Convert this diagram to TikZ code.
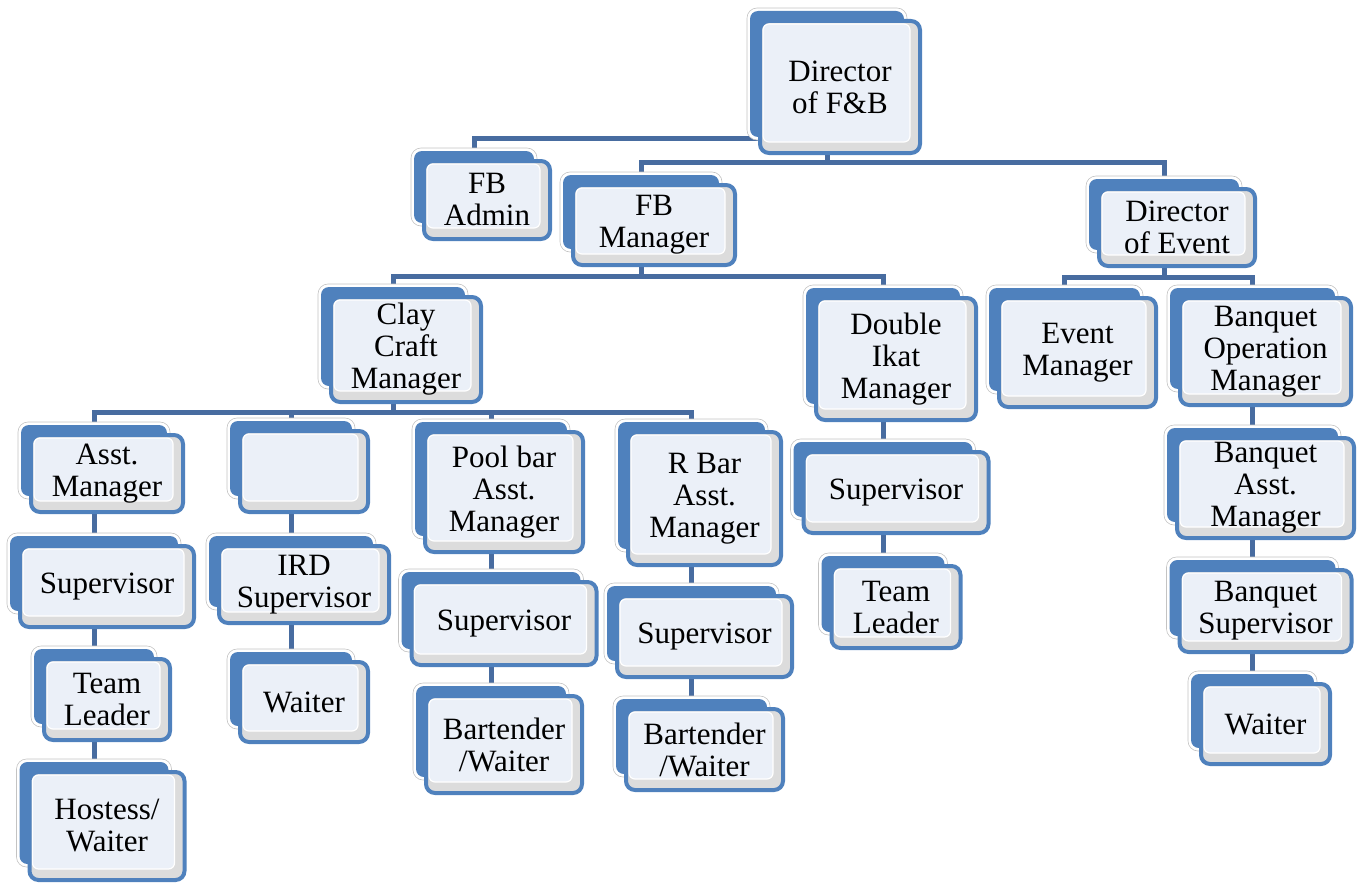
\documentclass[tikz,border=0pt]{standalone}
\usepackage{fontspec}
\newfontfamily\orgfont{LiberationSerif-Regular.ttf}
\usetikzlibrary{backgrounds,calc}
\definecolor{boxblue}{RGB}{79,129,189}
\definecolor{linkblue}{RGB}{72,108,160}
\definecolor{lightfill}{RGB}{235,240,248}
\definecolor{shadegray}{RGB}{220,220,220}
\definecolor{rimgray}{RGB}{195,195,195}
\tikzset{
  backbox/.style={draw=rimgray, line width=0.6pt, fill=white, rounded corners=10pt, inner sep=0pt,
    path picture={\fill[boxblue, rounded corners=8pt]
      ([shift={(3pt,-3pt)}]path picture bounding box.north west) rectangle
      ([shift={(-3pt,3pt)}]path picture bounding box.south east);}},
  frontbox/.style={draw=boxblue, line width=4pt, fill=shadegray, rounded corners=9pt, inner sep=0pt,
    align=center, font=\orgfont\fontsize{31}{32}\selectfont,
    path picture={\filldraw[fill=lightfill, draw=white, line width=1.2pt, rounded corners=6pt]
      ([shift={(3pt,-3pt)}]path picture bounding box.north west) rectangle
      ([shift={(-10pt,11pt)}]path picture bounding box.south east);}},
  conn/.style={draw=linkblue, line width=5pt}
}
% name, centre x of back box, top y of back box, width, height, text
\newcommand\orgbox[6]{%
  \node[backbox, minimum width=#4pt, minimum height=#5pt] (#1-b) at (#2,{#3+#5/2}) {};
  \node[frontbox, minimum width=#4pt, minimum height=#5pt] (#1) at ({#2+13},{#3+#5/2+13}) {#6};
}
\begin{document}
\begin{tikzpicture}[x=1pt,y=-1pt]
\useasboundingbox (0,0) rectangle (1357,883);
\orgbox{dir}{827}{8}{160}{132}{Director\\of F\&B}
\orgbox{adm}{474}{148}{126}{78}{FB\\Admin}
\orgbox{fbm}{641}{172}{162}{80}{FB\\Manager}
\orgbox{evt}{1164}{176}{156}{77}{Director\\of Event}
\orgbox{clay}{393}{284}{150}{105}{Clay\\Craft\\Manager}
\orgbox{dik}{883}{285}{160}{122}{Double\\Ikat\\Manager}
\orgbox{em}{1064.5}{285}{157}{109}{Event\\Manager}
\orgbox{bop}{1252.5}{285}{171}{107}{Banquet\\Operation\\Manager}
\orgbox{am1}{94}{422}{152}{77}{Asst.\\Manager}
\orgbox{emp}{291}{418}{128}{81}{}
\orgbox{pool}{491}{419}{158}{120}{Pool bar\\Asst.\\Manager}
\orgbox{rbar}{691.5}{419}{153}{133}{R Bar\\Asst.\\Manager}
\orgbox{sup1}{94}{533}{174}{81}{Supervisor}
\orgbox{tl1}{94}{646}{126}{81}{Team\\Leader}
\orgbox{host}{94}{759}{155}{108}{Hostess/\\Waiter}
\orgbox{ird}{291}{533}{170}{77}{IRD\\Supervisor}
\orgbox{wai2}{291}{649}{128}{80}{Waiter}
\orgbox{psup}{491}{569}{185}{83}{Supervisor}
\orgbox{pbw}{491}{683}{156}{97}{Bartender\\/Waiter}
\orgbox{rsup}{691.5}{583}{175}{81}{Supervisor}
\orgbox{rbw}{691.5}{696}{157}{81}{Bartender\\/Waiter}
\orgbox{dsup}{883}{439}{185}{81}{Supervisor}
\orgbox{dtl}{883}{553}{129}{82}{Team\\Leader}
\orgbox{bam}{1252.5}{425}{177}{100}{Banquet\\Asst.\\Manager}
\orgbox{bsup}{1252.5}{557}{172}{82}{Banquet\\Supervisor}
\orgbox{bwai}{1252.5}{671}{129}{80}{Waiter}
\begin{scope}[on background layer]
  \coordinate (j1) at (827,138);
  \coordinate (j2) at (827,162);
  \coordinate (j3) at (641,276);
  \coordinate (j4) at (1164,277);
  \coordinate (j5) at (393,412);
  \draw[conn] (dir-b.center) -- (j2);
  \draw[conn] (j1) -| (adm-b.north);
  \draw[conn] (fbm-b.north) |- (j2) -| (evt-b.north);
  \draw[conn] (fbm-b.center) -- (j3);
  \draw[conn] (clay-b.north) |- (j3) -| (dik-b.north);
  \draw[conn] (evt-b.center) -- (j4);
  \draw[conn] (em-b.north) |- (j4) -| (bop-b.north);
  \draw[conn] (clay-b.center) -- (j5);
  \draw[conn] (am1-b.north) |- (j5) -| (rbar-b.north);
  \draw[conn] (emp-b.north) -- (emp-b.north |- j5);
  \draw[conn] (pool-b.north) -- (pool-b.north |- j5);
  \draw[conn] (am1-b.center) -- (sup1-b.north);
  \draw[conn] (sup1-b.center) -- (tl1-b.north);
  \draw[conn] (tl1-b.center) -- (host-b.north);
  \draw[conn] (emp-b.center) -- (ird-b.north);
  \draw[conn] (ird-b.center) -- (wai2-b.north);
  \draw[conn] (pool-b.center) -- (psup-b.north);
  \draw[conn] (psup-b.center) -- (pbw-b.north);
  \draw[conn] (rbar-b.center) -- (rsup-b.north);
  \draw[conn] (rsup-b.center) -- (rbw-b.north);
  \draw[conn] (dik-b.center) -- (dsup-b.north);
  \draw[conn] (dsup-b.center) -- (dtl-b.north);
  \draw[conn] (bop-b.center) -- (bam-b.north);
  \draw[conn] (bam-b.center) -- (bsup-b.north);
  \draw[conn] (bsup-b.center) -- (bwai-b.north);
\end{scope}
\end{tikzpicture}
\end{document}
